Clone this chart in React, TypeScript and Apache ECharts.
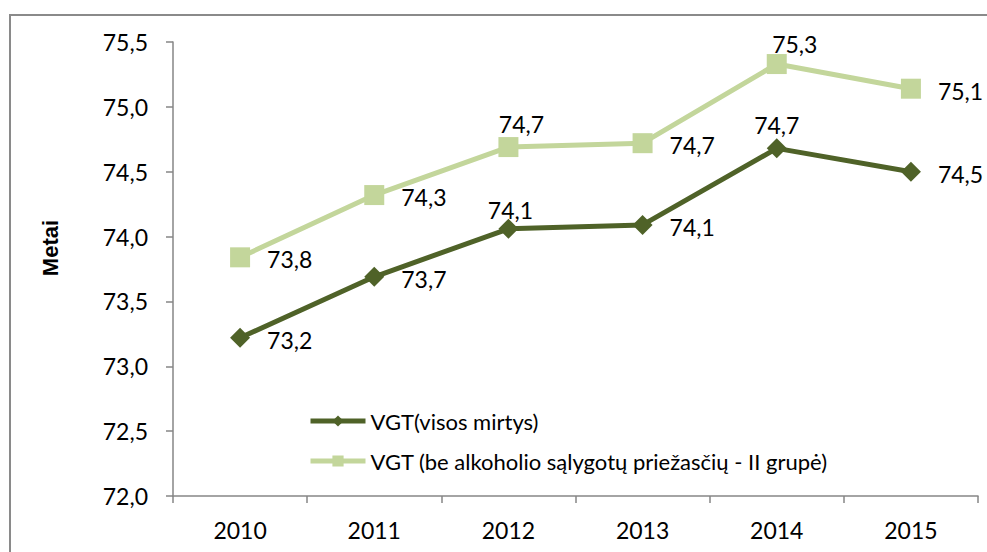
import React, { useEffect, useRef } from "react";
import * as echarts from "echarts";

const categories = ["2010", "2011", "2012", "2013", "2014", "2015"];
const seriesAllName = "VGT(visos mirtys)";
const seriesAllValues = [73.22, 73.69, 74.06, 74.09, 74.68, 74.5];
const seriesNoAlcName = "VGT (be alkoholio sąlygotų priežasčių - II grupė)";
const seriesNoAlcValues = [73.84, 74.32, 74.69, 74.72, 75.33, 75.14];
// label placement per point: "r" = right, "t" = top
const allLabelPos = ["r", "r", "t", "r", "t", "r"];
const noAlcLabelPos = ["r", "r", "t", "r", "t", "r"];
const allLabelShiftX = [0, 0, 2, 0, 0, 0];
const allLabelShiftY = [0, 0, 3, 0, -2, 0];
const noAlcLabelShiftX = [0, 0, 13, 0, 18, 0];
const noAlcLabelShiftY = [0, 0, -2, 0, 1, 0];

const yTitle = "Metai";
const FONT = "Lato, 'Open Sans', sans-serif";
const DARK = "#4F6228";
const LIGHT = "#C3D69B";
const AXIS = "#868686";

const fmt = (v: number) => v.toFixed(1).replace(".", ",");

function buildData(values: number[], pos: string[], sx: number[], sy: number[]) {
  return values.map((v, i) => ({
    value: v,
    label:
      pos[i] === "t"
        ? { position: "top", distance: 0, offset: [sx[i], sy[i]] }
        : { position: "right", distance: 17, offset: [0, 2] },
  }));
}

export default function App() {
  const ref = useRef<HTMLDivElement>(null);
  useEffect(() => {
    if (!ref.current) return;
    const chart = echarts.init(ref.current, null, { renderer: "svg" });
    const labelStyle = {
      show: true,
      color: "#000",
      fontFamily: FONT,
      fontSize: 23,
      formatter: (p: any) => fmt(p.value),
    };
    chart.setOption({
      animation: false,
      backgroundColor: "#fff",
      grid: { left: 173, top: 42, right: 9, bottom: 56 },
      graphic: [
        {
          type: "rect",
          shape: { x: 10, y: 15, width: 1200, height: 800 },
          style: { fill: "none", stroke: "#8a8a8a", lineWidth: 2 },
          silent: true,
        },
        {
          type: "text",
          x: 50,
          y: 248,
          rotation: Math.PI / 2,
          style: {
            text: yTitle,
            fontFamily: "'Liberation Sans', Arial, sans-serif",
            fontWeight: "bold",
            fontSize: 22,
            fill: "#000",
            align: "center",
            verticalAlign: "middle",
          },
        },
      ],
      legend: {
        orient: "vertical",
        left: 303,
        top: 405,
        itemWidth: 55,
        itemHeight: 14,
        itemGap: 18,
        lineStyle: { width: 5 },
        textStyle: {
          fontFamily: FONT,
          fontSize: 22,
          color: "#000",
          lineHeight: 22,
        },
        data: [seriesAllName, seriesNoAlcName],
      },
      xAxis: {
        type: "category",
        data: categories,
        boundaryGap: true,
        axisLine: { lineStyle: { color: AXIS, width: 1.5 } },
        axisTick: { show: true, length: 7, lineStyle: { color: AXIS, width: 1.5 } },
        axisLabel: { color: "#000", fontFamily: FONT, fontSize: 23, margin: 22 },
        splitLine: { show: false },
      },
      yAxis: {
        type: "value",
        min: 72,
        max: 75.5,
        interval: 0.5,
        axisLine: { show: true, lineStyle: { color: AXIS, width: 1.5 } },
        axisTick: { show: true, length: 7, lineStyle: { color: AXIS, width: 1.5 } },
        axisLabel: {
          color: "#000",
          fontFamily: FONT,
          fontSize: 23,
          margin: 25,
          formatter: (v: number) => fmt(v),
        },
        splitLine: { show: false },
      },
      series: [
        {
          name: seriesAllName,
          type: "line",
          data: buildData(seriesAllValues, allLabelPos, allLabelShiftX, allLabelShiftY),
          symbol: "diamond",
          symbolSize: 20,
          lineStyle: { color: DARK, width: 5 },
          itemStyle: { color: DARK },
          label: labelStyle,
          z: 3,
        },
        {
          name: seriesNoAlcName,
          type: "line",
          data: buildData(seriesNoAlcValues, noAlcLabelPos, noAlcLabelShiftX, noAlcLabelShiftY),
          symbol: "rect",
          symbolSize: 20,
          lineStyle: { color: LIGHT, width: 5 },
          itemStyle: { color: LIGHT },
          label: labelStyle,
          z: 2,
        },
      ],
    });
    return () => chart.dispose();
  }, []);
  return (
    <div
      ref={ref}
      style={{ position: "absolute", left: 0, top: 0, width: 987, height: 552 }}
    />
  );
}
